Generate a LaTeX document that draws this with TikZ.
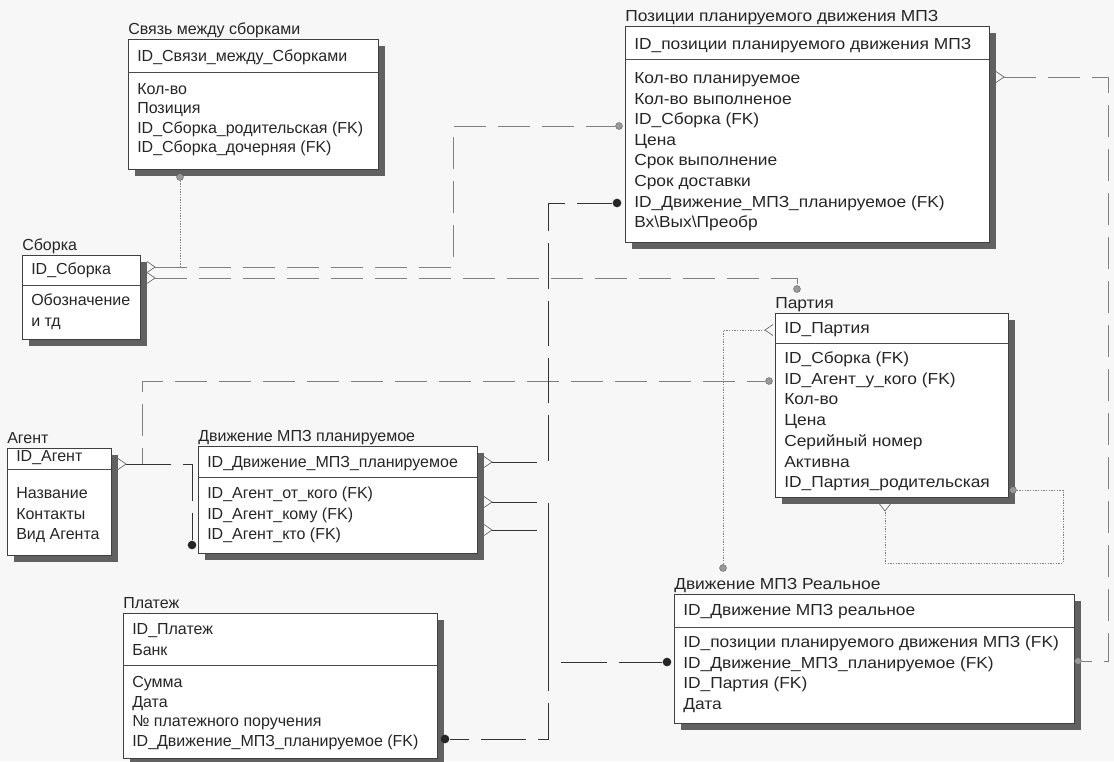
\documentclass[tikz,border=0pt]{standalone}
\usepackage{fontspec}
\setmainfont{Liberation Sans}
\newfontfamily\wideface[FakeStretch=1.085]{Liberation Sans}
\usetikzlibrary{fit}

% face used for entity texts (switched for the wider right-hand tables)
\newcommand{\erFace}{\normalfont}

% one entity: id, title, left, top, right, bottom, y of the key separator
\newcommand{\erEntity}[7]{%
  \fill[eshadow] (#3+7,#4+7) rectangle (#5+7,#6+7);
  \coordinate (#1-nw) at (#3,#4);
  \coordinate (#1-se) at (#5,#6);
  \node[ebox, fit={(#1-nw) (#1-se)}] (#1) {};
  \draw[esep] (#3,#7) -- (#5,#7);
  \node[etitle] (#1-title) at (#3,#4-5) {#2};
}
% attribute lines: id, prefix, left, first row centre, step, list
\newcommand{\erRows}[6]{%
  \foreach \t [count=\i] in {#6}
    \node[eattr] (#1-#2\i) at (#3+9,#4+\i*#5-#5+5.5) {\t};
}
% half diamond markers
\newcommand{\chevE}[2]{\draw[chev] (#1,#2-5.5) -- (#1+8,#2) -- (#1,#2+5.5);}
\newcommand{\chevW}[2]{\draw[chev] (#1,#2-5.5) -- (#1-8,#2) -- (#1,#2+5.5);}
\newcommand{\chevS}[2]{\draw[chev] (#1-5.5,#2) -- (#1,#2+7) -- (#1+5.5,#2);}

\tikzset{
  eshadow/.style={fill=black!62},
  ebox/.style={draw=black!75, line width=0.6pt, fill=white, inner sep=0pt, outer sep=0pt},
  esep/.style={draw=black!70, line width=0.5pt},
  etitle/.style={anchor=base west, inner sep=0pt, text=black!85, font=\erFace\fontsize{12}{14}\selectfont},
  eattr/.style={anchor=base west, inner sep=0pt, text=black!85, font=\erFace\fontsize{12}{14}\selectfont},
  chev/.style={draw=black!60, line width=0.5pt},
  relmain/.style={draw=black!80, line width=0.6pt, dash pattern=on 34pt off 9pt},
  rellight/.style={draw=black!50, line width=0.5pt, dash pattern=on 24pt off 9pt},
  reldot/.style={draw=black!50, line width=0.5pt, dash pattern=on 1pt off 1pt},
  hdot/.style={circle, minimum size=5.2pt, inner sep=0pt, fill=black!40, draw=black!65, line width=0.3pt},
  bdot/.style={circle, minimum size=6.5pt, inner sep=0pt, fill=black!85},
}

\begin{document}
\begin{tikzpicture}[x=0.75pt,y=-0.75pt]
\useasboundingbox (0,0) rectangle (1114,761);
\fill[black!3] (0,0) rectangle (1114,761);

% ---------- entities ----------
\erEntity{sv}{Связь между сборками}{128}{39}{378}{169}{72}
\erRows{sv}{k}{128}{56}{20}{ID\_Связи\_между\_Сборками}
\erRows{sv}{a}{128}{88.5}{19.6}{Кол-во, Позиция, ID\_Сборка\_родительская (FK), ID\_Сборка\_дочерняя (FK)}

\erEntity{sb}{Сборка}{22}{255}{140}{339}{285}
\erRows{sb}{k}{22}{269}{20}{ID\_Сборка}
\erRows{sb}{a}{22}{300}{21}{Обозначение, и тд}

\erEntity{ag}{Агент}{7}{448}{111}{555}{469}
\erRows{ag}{k}{7}{456}{20}{ID\_Агент}
\erRows{ag}{a}{7}{493}{20.5}{Название, Контакты, Вид Агента}

\erEntity{dp}{Движение МПЗ планируемое}{198}{446}{477}{553}{477}
\erRows{dp}{k}{198}{462}{20}{ID\_Движение\_МПЗ\_планируемое}
\erRows{dp}{a}{198}{493}{20.5}{ID\_Агент\_от\_кого (FK), ID\_Агент\_кому (FK), ID\_Агент\_кто (FK)}

\erEntity{pl}{Платеж}{123}{613}{437}{758}{665}
\erRows{pl}{k}{123}{629}{21}{ID\_Платеж, Банк}
\erRows{pl}{a}{123}{682}{19.7}{Сумма, Дата, № платежного поручения, ID\_Движение\_МПЗ\_планируемое (FK)}

\renewcommand{\erFace}{\wideface}

\erEntity{pz}{Позиции планируемого движения МПЗ}{625}{26}{989}{242}{59}
\erRows{pz}{k}{625}{44}{20}{ID\_позиции планируемого движения МПЗ}
\erRows{pz}{a}{625}{78}{20.6}{Кол-во планируемое, Кол-во выполненое, ID\_Сборка (FK), Цена, Срок выполнение, Срок доставки, ID\_Движение\_МПЗ\_планируемое (FK), Вх\textbackslash Вых\textbackslash Преобр}

\erEntity{pt}{Партия}{775}{313}{1008}{497}{343}
\erRows{pt}{k}{775}{328}{20}{ID\_Партия}
\erRows{pt}{a}{775}{358}{20.7}{ID\_Сборка (FK), ID\_Агент\_у\_кого (FK), Кол-во, Цена, Серийный номер, Активна, ID\_Партия\_родительская}

\erEntity{dr}{Движение МПЗ Реальное}{674}{594}{1074}{723}{627}
\erRows{dr}{k}{674}{610}{20}{ID\_Движение МПЗ реальное}
\erRows{dr}{a}{674}{642}{20.7}{ID\_позиции планируемого движения МПЗ (FK), ID\_Движение\_МПЗ\_планируемое (FK), ID\_Партия (FK), Дата}

% ---------- relationship ends ----------
\chevE{147}{267} \coordinate (sbTipA) at (155,267);
\chevE{147}{278} \coordinate (sbTipB) at (155,278);
\chevE{118}{464} \coordinate (agTip) at (126,464);
\chevE{484}{462} \coordinate (dpTip1) at (492,462);
\chevE{484}{502} \coordinate (dpTip2) at (492,502);
\chevE{484}{530} \coordinate (dpTip3) at (492,530);
\chevE{996}{77}  \coordinate (pzTip) at (1004,77);
\chevW{773}{330} \coordinate (ptTipId) at (765,330);
\chevS{885}{504} \coordinate (ptTipBot) at (885,511);

\node[hdot] (svDot)     at (180,177) {};
\node[hdot] (pzDotSb)   at (619,126) {};
\node[bdot] (pzDotDp)   at (617,203) {};
\node[hdot] (ptDotSb)   at (797,289) {};
\node[hdot] (ptDotAg)   at (769,381) {};
\node[hdot] (ptDotSelf) at (1013,490) {};
\node[bdot] (agDot)     at (192,545) {};
\node[bdot] (plDot)     at (445,739) {};
\node[bdot] (drDotDp)   at (667,662) {};
\node[hdot] (drDotPt)   at (723,568) {};
\node[hdot] (drDotPz)   at (1078,661) {};

% ---------- relationships ----------
\draw[rellight] (sbTipA) -| (453,126) -- (pzDotSb.west);
\draw[reldot]   (svDot.south) -- (svDot |- sbTipA);
\draw[rellight] (sbTipB) -| (ptDotSb.north);
\draw[rellight] (agTip) -| (142,381) -- (ptDotAg.west);
\draw[relmain]  (agTip) -| (agDot.north);
\draw[relmain]  (dpTip1) -| (548,203) -- (pzDotDp.west);
\draw[relmain]  (dpTip2) -| (548,662) -- (drDotDp.west);
\draw[relmain]  (dpTip3) -| (548,739) -- (plDot.east);
\draw[reldot]   (ptTipId) -| (drDotPt.north);
\draw[reldot]   (ptDotSelf.east) -| (1063,563) -| (ptTipBot);
\draw[rellight] (pzTip) -| (1108,661) -- (drDotPz.east);
\end{tikzpicture}
\end{document}
